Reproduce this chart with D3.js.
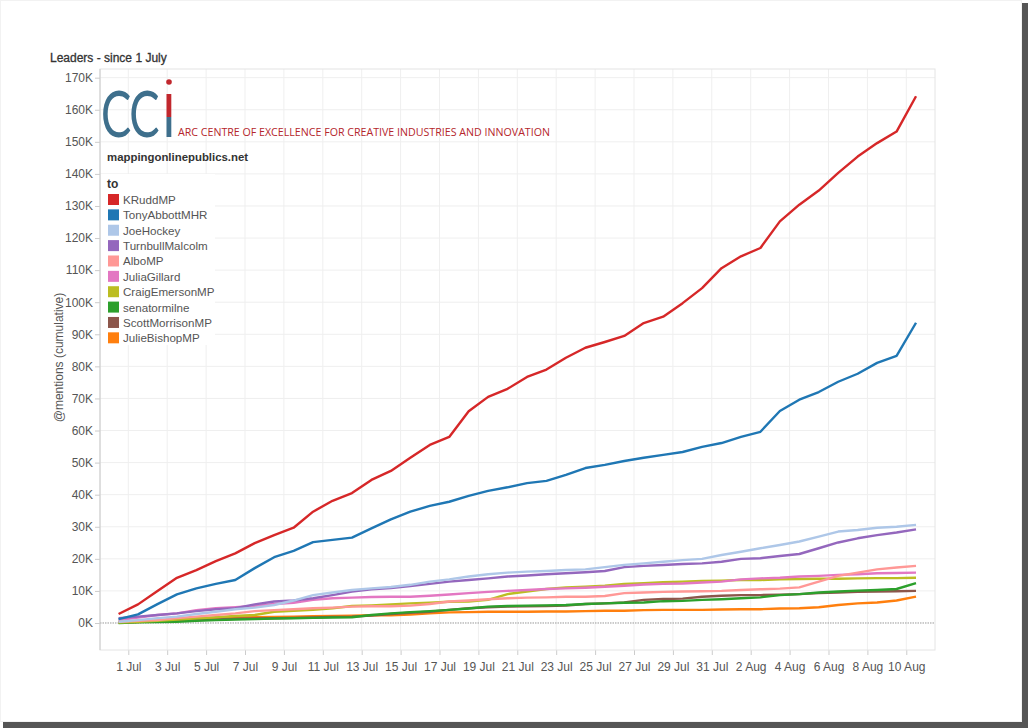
<!DOCTYPE html>
<html>
<head>
<meta charset="utf-8">
<script src="https://cdn.jsdelivr.net/npm/d3@7/dist/d3.min.js"></script>
<style>
  body { margin: 0; background: #fff; }
  svg { display: block; font-family: "Liberation Sans", Arial, sans-serif; }
</style>
</head>
<body>
<div id="chart"></div>
<script>
// accounts, in legend order
const accounts = ["KRuddMP", "TonyAbbottMHR", "JoeHockey", "TurnbullMalcolm", "AlboMP",
  "JuliaGillard", "CraigEmersonMP", "senatormilne", "ScottMorrisonMP", "JulieBishopMP"];
const accountColors = ["#d62728", "#1f77b4", "#aec7e8", "#9467bd", "#ff9896",
  "#e377c2", "#bcbd22", "#2ca02c", "#8c564b", "#ff7f0e"];

// one value a day, 30 Jun .. 10 Aug 2013, cumulative @mentions in thousands
const firstDay = "2013-06-30";
const kRudd = [2.8, 5.8, 10.0, 14.1, 16.5, 19.3, 21.7, 24.9, 27.4, 29.7, 34.7, 38.1, 40.5, 44.6,
  47.4, 51.5, 55.5, 58.0, 66.0, 70.5, 73.0, 76.7, 79.0, 82.7, 85.8, 87.6, 89.5, 93.5, 95.5,
  99.7, 104.4, 110.6, 114.3, 116.9, 125.2, 130.4, 134.8, 140.3, 145.4, 149.6, 153.2, 164.2];
const tonyAbbott = [1.2, 2.7, 5.9, 8.9, 10.8, 12.2, 13.4, 17.1, 20.5, 22.5, 25.2, 25.9, 26.6, 29.5,
  32.3, 34.7, 36.5, 37.8, 39.6, 41.2, 42.3, 43.6, 44.3, 46.2, 48.3, 49.3, 50.5, 51.5, 52.4,
  53.3, 54.9, 56.1, 58.0, 59.6, 66.1, 69.6, 72.0, 75.2, 77.7, 81.1, 83.3, 93.6];
const joeHockey = [0.4, 0.9, 1.5, 2.0, 2.8, 3.5, 4.3, 4.8, 5.6, 7.0, 8.7, 9.5, 10.3, 10.8,
  11.2, 11.9, 12.9, 13.6, 14.5, 15.2, 15.7, 16.0, 16.2, 16.5, 16.7, 17.4, 18.1, 18.6, 19.1,
  19.6, 20.0, 21.2, 22.2, 23.3, 24.3, 25.4, 26.9, 28.5, 29.0, 29.7, 30.0, 30.6];
const turnbull = [1.5, 2.0, 2.5, 3.0, 3.7, 4.3, 4.6, 5.8, 6.7, 7.0, 7.7, 8.7, 9.8, 10.5,
  10.9, 11.5, 12.2, 12.9, 13.4, 13.9, 14.5, 14.8, 15.2, 15.5, 15.8, 16.2, 17.4, 17.8, 18.1,
  18.4, 18.6, 19.1, 20.0, 20.2, 20.9, 21.5, 23.3, 25.1, 26.4, 27.4, 28.2, 29.2];
const albo = [0.4, 0.7, 0.9, 1.5, 2.0, 2.5, 3.0, 3.7, 4.0, 4.3, 4.6, 4.8, 5.1, 5.2,
  5.2, 5.4, 5.9, 6.7, 7.0, 7.4, 7.7, 7.9, 8.0, 8.2, 8.2, 8.4, 9.3, 9.5, 9.7,
  9.8, 9.9, 10.0, 10.3, 10.5, 10.7, 11.1, 12.9, 14.7, 15.7, 16.7, 17.3, 17.8];
const gillard = [0.9, 1.7, 2.5, 3.0, 4.0, 4.6, 4.9, 5.3, 5.9, 6.3, 7.2, 7.7, 7.9, 8.1,
  8.2, 8.2, 8.5, 8.9, 9.3, 9.7, 10.0, 10.3, 10.6, 10.8, 11.0, 11.3, 11.6, 12.0, 12.2,
  12.3, 12.6, 12.9, 13.6, 13.9, 14.1, 14.5, 14.7, 15.0, 15.2, 15.5, 15.6, 15.7];
const emerson = [0.1, 0.4, 0.7, 1.1, 1.5, 1.8, 2.2, 2.5, 3.5, 3.8, 4.1, 4.6, 5.3, 5.5,
  5.8, 6.1, 6.3, 6.6, 6.7, 7.2, 9.0, 9.8, 10.6, 11.1, 11.3, 11.6, 12.2, 12.4, 12.7,
  12.9, 13.1, 13.2, 13.4, 13.4, 13.6, 13.7, 13.8, 13.8, 13.9, 14.0, 14.0, 14.1];
const milne = [0.0, 0.2, 0.3, 0.4, 0.7, 0.9, 1.1, 1.2, 1.4, 1.5, 1.6, 1.7, 1.8, 2.5,
  3.0, 3.4, 3.7, 4.1, 4.5, 5.1, 5.3, 5.4, 5.5, 5.6, 5.9, 6.1, 6.3, 6.4, 6.8,
  6.9, 7.2, 7.4, 7.7, 8.0, 8.7, 9.0, 9.5, 9.8, 10.1, 10.3, 10.6, 12.4];
const morrison = [0.3, 0.4, 0.5, 0.7, 0.9, 1.1, 1.3, 1.4, 1.5, 1.6, 1.7, 1.9, 2.0, 2.3,
  2.8, 3.2, 3.5, 4.1, 4.6, 4.9, 5.1, 5.2, 5.3, 5.4, 5.9, 6.1, 6.4, 7.2, 7.5,
  7.6, 8.2, 8.5, 8.7, 8.7, 8.8, 9.0, 9.3, 9.5, 9.7, 9.8, 9.9, 10.0];
const bishop = [0.1, 0.3, 0.6, 0.9, 1.2, 1.5, 1.7, 1.8, 1.9, 2.0, 2.1, 2.2, 2.3, 2.4,
  2.4, 2.6, 3.0, 3.3, 3.4, 3.5, 3.5, 3.5, 3.6, 3.6, 3.7, 3.8, 3.8, 4.0, 4.1,
  4.1, 4.1, 4.2, 4.3, 4.3, 4.5, 4.6, 4.9, 5.6, 6.1, 6.4, 7.0, 8.2];

const seriesValues = [kRudd, tonyAbbott, joeHockey, turnbull, albo, gillard, emerson, milne, morrison, bishop];

// axis ticks
const xTickDates = ["2013-07-01", "2013-07-03", "2013-07-05", "2013-07-07", "2013-07-09",
  "2013-07-11", "2013-07-13", "2013-07-15", "2013-07-17", "2013-07-19", "2013-07-21",
  "2013-07-23", "2013-07-25", "2013-07-27", "2013-07-29", "2013-07-31", "2013-08-02",
  "2013-08-04", "2013-08-06", "2013-08-08", "2013-08-10"];
const yTickValues = [0, 10, 20, 30, 40, 50, 60, 70, 80, 90, 100, 110, 120, 130, 140, 150, 160, 170];

const parseDay = d3.timeParse("%Y-%m-%d");

class CumulativeChart {
  constructor(options) {
    let o = {
      el: "#chart",
      width: 1028,
      height: 728,
      margin: { top: 69, left: 100, right: 93, bottom: 78 },
      title: "Leaders - since 1 July",
      yTitle: "@mentions (cumulative)",
      legendTitle: "to"
    };
    Object.assign(this, o, options);
    this._init();
  }

  _init() {
    this.svg = d3.select(this.el).append("svg")
      .attr("width", this.width).attr("height", this.height);
    this.viewW = this.width - this.margin.left - this.margin.right;
    this.viewH = this.height - this.margin.top - this.margin.bottom;
    this._frame();
    this.group = this.svg.append("g")
      .attr("transform", `translate(${this.margin.left},${this.margin.top})`);
    this._createXaxis();
    this._createYaxis();
    this._createLines();
    this._createLogo();
    this._createLegend();
  }

  _frame() {
    // page border with a drop shadow on the right and bottom
    this.svg.append("rect").attr("x", 0.5).attr("y", 0.5)
      .attr("width", this.width - 7).attr("height", this.height - 7)
      .attr("fill", "#fff").attr("stroke", "#f2f2f2");
    this.svg.append("rect").attr("x", this.width - 6).attr("y", 3)
      .attr("width", 6).attr("height", this.height - 3).attr("fill", "#555");
    this.svg.append("rect").attr("x", 3).attr("y", this.height - 6)
      .attr("width", this.width - 3).attr("height", 6).attr("fill", "#555");
    this.svg.append("text").attr("x", 50).attr("y", 62)
      .attr("font-size", 12).attr("fill", "#333")
      .attr("stroke", "#333").attr("stroke-width", 0.3)
      .text(this.title);
  }

  _createXaxis() {
    const first = parseDay(firstDay);
    const dayMs = 864e5;
    // plot runs from about 29 Jun 13:00 to 11 Aug 11:00
    this.xScale = d3.scaleTime()
      .domain([new Date(+first - 0.455 * dayMs), new Date(+first + 42.476 * dayMs)])
      .range([0, this.viewW]);

    this.group.append("g").attr("class", "xGrid")
      .selectAll("line").data(xTickDates.map(parseDay)).enter().append("line")
      .attr("x1", d => this.xScale(d)).attr("x2", d => this.xScale(d))
      .attr("y1", 0).attr("y2", this.viewH)
      .attr("stroke", "#efefef");

    const axis = this.group.append("g").attr("class", "xAxis")
      .attr("transform", `translate(0,${this.viewH})`)
      .call(d3.axisBottom(this.xScale)
        .tickValues(xTickDates.map(parseDay))
        .tickFormat(d3.timeFormat("%-d %b"))
        .tickSize(5).tickPadding(7));
    axis.select(".domain").remove();
    axis.selectAll("line").attr("stroke", "#ccc");
    axis.selectAll("text").attr("font-size", 12).attr("fill", "#555")
      .attr("font-family", "Liberation Sans, Arial, sans-serif");
  }

  _createYaxis() {
    this.yScale = d3.scaleLinear()
      .domain([-8.42, 172.7])
      .range([this.viewH, 0]);

    this.group.append("g").attr("class", "yGrid")
      .selectAll("line").data(yTickValues.filter(v => v !== 0)).enter().append("line")
      .attr("x1", 0).attr("x2", this.viewW)
      .attr("y1", d => this.yScale(d)).attr("y2", d => this.yScale(d))
      .attr("stroke", "#efefef");

    // plot frame
    this.group.append("rect").attr("width", this.viewW).attr("height", this.viewH)
      .attr("fill", "none").attr("stroke", "#e4e4e4");

    this.group.append("line")
      .attr("x1", 0).attr("x2", this.viewW)
      .attr("y1", this.yScale(0)).attr("y2", this.yScale(0))
      .attr("stroke", "#999").attr("stroke-dasharray", "1.5,1");

    const axis = this.group.append("g").attr("class", "yAxis")
      .call(d3.axisLeft(this.yScale)
        .tickValues(yTickValues)
        .tickFormat(d => d + "K")
        .tickSize(5).tickPadding(2));
    axis.select(".domain").attr("stroke", "#ccc").attr("d", `M0,0V${this.viewH}`);
    axis.selectAll("line").attr("stroke", "#ccc");
    axis.selectAll("text").attr("font-size", 12).attr("fill", "#555")
      .attr("font-family", "Liberation Sans, Arial, sans-serif");

    this.svg.append("text")
      .attr("transform", `translate(63,${this.margin.top + this.viewH / 2 - 2}) rotate(-90)`)
      .attr("text-anchor", "middle").attr("font-size", 12).attr("fill", "#555")
      .text(this.yTitle);
  }

  _createLines() {
    const first = parseDay(firstDay);
    const noon = i => d3.timeHour.offset(d3.timeDay.offset(first, i), 12);
    const line = d3.line()
      .x((d, i) => this.xScale(noon(i)))
      .y(d => this.yScale(d));
    const data = accounts.map((name, k) => ({ name, color: accountColors[k], values: seriesValues[k] }));

    this.group.selectAll(".series")
      .data(data.slice().reverse())
      .enter()
      .append("path")
      .attr("class", "series")
      .attr("d", d => line(d.values))
      .attr("fill", "none")
      .attr("stroke", d => d.color)
      .attr("stroke-width", 2.4)
      .attr("stroke-linejoin", "round");
  }

  _createLogo() {
    const g = this.svg.append("g").attr("class", "logo");
    g.append("text").attr("x", 101).attr("y", 137)
      .attr("transform", "translate(101,0) scale(0.72,1) translate(-101,0)")
      .attr("font-family", "Lato, sans-serif").attr("font-weight", 400)
      .attr("font-size", 63).attr("fill", "#3e6f8c")
      .attr("letter-spacing", -2)
      .text("CC");
    g.append("rect").attr("x", 166.5).attr("y", 94).attr("width", 4.8).attr("height", 23).attr("fill", "#c1272d");
    g.append("rect").attr("x", 166.5).attr("y", 117).attr("width", 4.8).attr("height", 20).attr("fill", "#3e6f8c");
    g.append("circle").attr("cx", 169).attr("cy", 82).attr("r", 2.8).attr("fill", "#c1272d");
    g.append("text").attr("x", 178).attr("y", 136)
      .attr("font-family", "Open Sans, sans-serif").attr("font-size", 10.3)
      .attr("textLength", 372).attr("lengthAdjust", "spacingAndGlyphs")
      .attr("fill", "#b5262c")
      .text("ARC CENTRE OF EXCELLENCE FOR CREATIVE INDUSTRIES AND INNOVATION");
    this.svg.append("text").attr("x", 107).attr("y", 161)
      .attr("font-size", 11.4).attr("font-weight", "bold").attr("fill", "#333")
      .text("mappingonlinepublics.net");
  }

  _createLegend() {
    const g = this.svg.append("g").attr("class", "legend").attr("transform", "translate(101,174)");
    g.append("rect").attr("width", 114).attr("height", 171).attr("fill", "#fff");
    g.append("text").attr("x", 6).attr("y", 14)
      .attr("font-size", 12).attr("font-weight", "bold").attr("fill", "#333")
      .text(this.legendTitle);
    const rows = g.selectAll(".item").data(accounts).enter().append("g")
      .attr("class", "item")
      .attr("transform", (d, i) => `translate(7,${20 + i * 15.37})`);
    rows.append("rect").attr("width", 11).attr("height", 11)
      .attr("fill", (d, i) => accountColors[i]);
    rows.append("text").attr("x", 15).attr("y", 10)
      .attr("font-size", 11.6).attr("fill", "#555").text(d => d);
  }
}

new CumulativeChart({ el: "#chart" });
</script>
</body>
</html>
